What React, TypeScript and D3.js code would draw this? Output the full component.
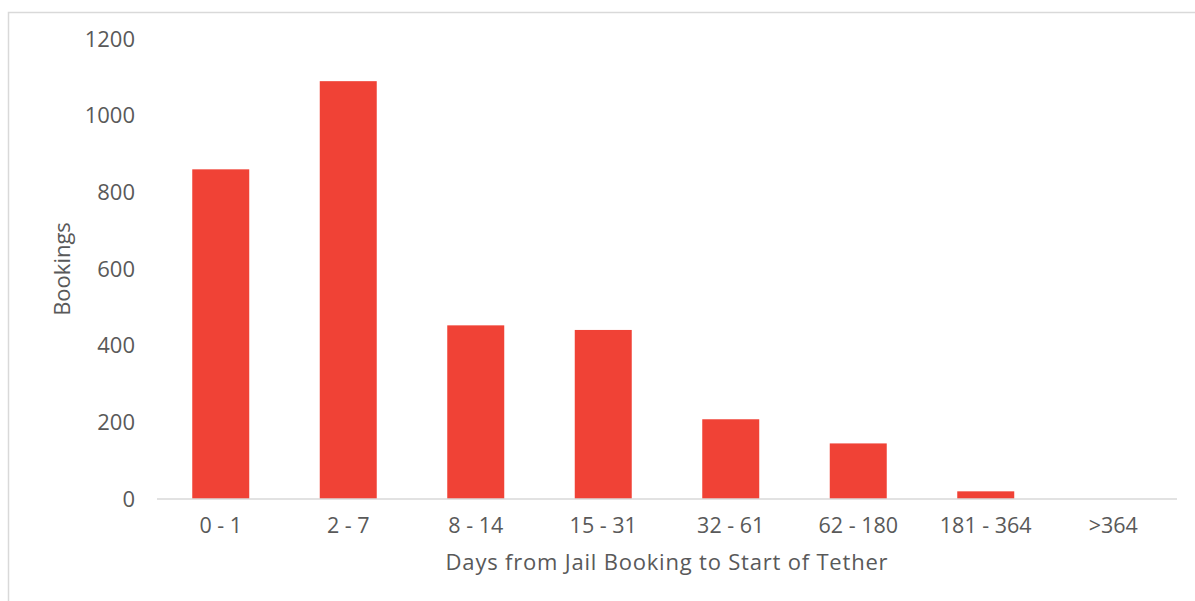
import React, { useRef, useEffect } from "react";
import { select, scaleBand, scaleLinear, range } from "d3";

const categories = ["0 - 1", "2 - 7", "8 - 14", "15 - 31", "32 - 61", "62 - 180", "181 - 364", ">364"];
const bookings = [860, 1090, 453, 441, 208, 145, 20, 0];
const yTicks = [0, 200, 400, 600, 800, 1000, 1200];

const BookingsChart = () => {
  const svgRef = useRef<SVGSVGElement>(null);

  useEffect(() => {
    const width = 1195;
    const height = 601;
    const plot = { left: 157, right: 1177, top: 39, bottom: 499 };
    const textColor = "#595959";
    const font = "'Open Sans', sans-serif";

    const svg = select(svgRef.current).attr("width", width).attr("height", height);
    svg.selectAll("*").remove();

    // chart area border (runs off the right and bottom edges)
    svg
      .append("rect")
      .attr("x", 8.5)
      .attr("y", 12.5)
      .attr("width", 1200)
      .attr("height", 620)
      .attr("fill", "white")
      .attr("stroke", "#d9d9d9")
      .attr("stroke-width", 1.5);

    const xScale = scaleBand<string>()
      .domain(categories)
      .range([plot.left, plot.right])
      .paddingInner(0.553)
      .paddingOuter(0.2765);

    const yScale = scaleLinear().domain([0, 1200]).range([plot.bottom, plot.top]);

    // y tick labels
    svg
      .selectAll(".y-tick")
      .data(yTicks)
      .join("text")
      .attr("class", "y-tick")
      .attr("x", 135)
      .attr("y", (d) => yScale(d))
      .attr("dy", "0.35em")
      .attr("text-anchor", "end")
      .attr("font-family", font)
      .attr("font-size", 22)
      .attr("fill", textColor)
      .text((d) => d);

    // bars
    svg
      .selectAll(".bar")
      .data(range(categories.length))
      .join("rect")
      .attr("class", "bar")
      .attr("x", (i) => xScale(categories[i]) as number)
      .attr("y", (i) => yScale(bookings[i]))
      .attr("width", xScale.bandwidth())
      .attr("height", (i) => yScale(0) - yScale(bookings[i]))
      .attr("fill", "#f04236");

    // baseline
    svg
      .append("line")
      .attr("x1", plot.left)
      .attr("x2", plot.right)
      .attr("y1", yScale(0))
      .attr("y2", yScale(0))
      .attr("stroke", "#d9d9d9")
      .attr("stroke-width", 1.5);

    // category labels
    svg
      .selectAll(".x-tick")
      .data(categories)
      .join("text")
      .attr("class", "x-tick")
      .attr("x", (d) => (xScale(d) as number) + xScale.bandwidth() / 2)
      .attr("y", 525)
      .attr("dy", "0.35em")
      .attr("text-anchor", "middle")
      .attr("font-family", font)
      .attr("font-size", 21.5)
      .attr("fill", textColor)
      .text((d) => d);

    // axis titles
    svg
      .append("text")
      .attr("x", (plot.left + plot.right) / 2)
      .attr("y", 562)
      .attr("dy", "0.35em")
      .attr("text-anchor", "middle")
      .attr("font-family", font)
      .attr("font-size", 22)
      .attr("letter-spacing", 0.8)
      .attr("fill", textColor)
      .text("Days from Jail Booking to Start of Tether");

    svg
      .append("text")
      .attr("transform", "translate(62,269) rotate(-90)")
      .attr("dy", "0.35em")
      .attr("text-anchor", "middle")
      .attr("font-family", font)
      .attr("font-size", 22)
      .attr("fill", textColor)
      .text("Bookings");
  }, []);

  return <svg ref={svgRef} style={{ position: "absolute", left: 0, top: 0 }}></svg>;
};

export default function App() {
  return <BookingsChart />;
}
